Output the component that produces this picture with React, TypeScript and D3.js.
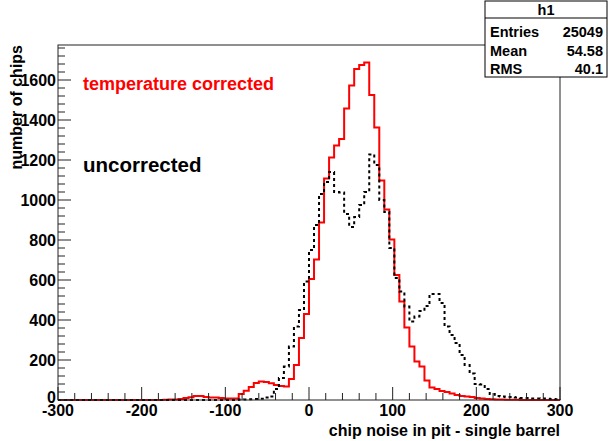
import React from 'react';
import * as d3 from 'd3';

const X_MIN = -300;
const X_MAX = 300;
const Y_MAX = 1775;

// 100 bins of width 6 from -300 to 300
const correctedCounts = [
  0, 0, 0, 0, 0, 0, 0, 0, 0, 0,
  0, 0, 0, 0, 0, 0, 0, 0, 0, 0,
  0, 1, 2, 3, 5, 10, 14, 20, 20, 15,
  12, 12, 10, 8, 7, 8, 30, 46, 65, 85,
  92, 90, 84, 75, 70, 68, 105, 175, 310, 430,
  605, 703, 887, 1108, 1212, 1272, 1305, 1458, 1572, 1655,
  1675, 1688, 1525, 1362, 1097, 953, 803, 625, 492, 363,
  267, 192, 167, 97, 62, 55, 45, 40, 33, 25,
  20, 17, 15, 10, 7, 5, 4, 3, 2, 1,
  1, 1, 0, 0, 0, 0, 0, 0, 0, 0,
];

const uncorrectedCounts = [
  0, 0, 0, 0, 0, 0, 0, 0, 0, 0,
  0, 0, 0, 0, 0, 0, 0, 0, 0, 0,
  0, 0, 0, 0, 0, 0, 0, 0, 0, 0,
  0, 0, 0, 0, 0, 0, 2, 3, 4, 5,
  6, 12, 18, 55, 110, 167, 267, 367, 450, 592,
  750, 875, 1030, 1090, 1140, 1040, 1038, 930, 865, 915,
  975, 1040, 1228, 1175, 1000, 940, 760, 610, 542, 467,
  392, 417, 445, 470, 530, 530, 485, 367, 325, 285,
  225, 175, 133, 80, 78, 55, 30, 20, 17, 15,
  15, 12, 10, 10, 8, 8, 7, 6, 5, 4,
];

const xTickValues = [-300, -200, -100, 0, 100, 200, 300];
const yTickValues = [0, 200, 400, 600, 800, 1000, 1200, 1400, 1600];
const statsTitle = 'h1';
const statsLabels = ['Entries', 'Mean', 'RMS'];
const statsValues = ['25049', '54.58', '40.1'];
const xTitle = 'chip noise in pit - single barrel';
const yTitle = 'number of chips';
const labelCorrected = 'temperature corrected';
const labelUncorrected = 'uncorrected';

const FONT = "'Liberation Sans', Arial, Helvetica, sans-serif";

export default function App() {
  const W = 609;
  const H = 441;
  const L = 58, R = 560, T = 45, B = 400;
  const x = d3.scaleLinear().domain([X_MIN, X_MAX]).range([L, R]);
  const y = d3.scaleLinear().domain([0, Y_MAX]).range([B, T]);

  const stepPath = (counts: number[]) => {
    const bw = (X_MAX - X_MIN) / counts.length;
    const pts: [number, number][] = [[X_MIN, 0]];
    counts.forEach((c, i) => {
      pts.push([X_MIN + i * bw, c]);
      pts.push([X_MIN + (i + 1) * bw, c]);
    });
    pts.push([X_MAX, 0]);
    const line = d3.line<[number, number]>().x(d => x(d[0])).y(d => y(d[1]));
    return line(pts) || '';
  };

  const xMinor = d3.range(X_MIN, X_MAX + 0.1, 20).filter(v => v % 100 !== 0);
  const yMinor = d3.range(0, Y_MAX, 40).filter(v => v % 200 !== 0);

  return (
    <svg width={W} height={H} style={{ position: 'fixed', left: 0, top: 0, background: '#fff' }}
      fontFamily={FONT} fontWeight="bold">
      <rect x={0} y={0} width={W} height={H} fill="#fff" />
      {/* histograms */}
      <path d={stepPath(correctedCounts)} fill="none" stroke="#ff0000" strokeWidth={2} />
      <path d={stepPath(uncorrectedCounts)} fill="none" stroke="#000" strokeWidth={2} strokeDasharray="3,3" />
      {/* frame */}
      <rect x={L} y={T} width={R - L} height={B - T} fill="none" stroke="#222" strokeWidth={1} />
      {/* x ticks */}
      {xTickValues.map(v => (
        <line key={'xm' + v} x1={x(v)} x2={x(v)} y1={B} y2={B - 13} stroke="#222" />
      ))}
      {xMinor.map(v => (
        <line key={'xn' + v} x1={x(v)} x2={x(v)} y1={B} y2={B - 7} stroke="#222" />
      ))}
      {xTickValues.map(v => (
        <text key={'xl' + v} x={x(v)} y={416} textAnchor="middle" fontSize={16}>{v}</text>
      ))}
      {/* y ticks */}
      {yTickValues.map(v => (
        <line key={'ym' + v} x1={L} x2={L + 13} y1={y(v)} y2={y(v)} stroke="#222" />
      ))}
      {yMinor.map(v => (
        <line key={'yn' + v} x1={L} x2={L + 7} y1={y(v)} y2={y(v)} stroke="#222" />
      ))}
      {yTickValues.map(v => (
        <text key={'yl' + v} x={56} y={y(v) - (v === 0 ? 3 : 0)} dy="0.35em" textAnchor="end" fontSize={16}>{v}</text>
      ))}
      {/* titles */}
      <text x={R} y={436} textAnchor="end" fontSize={16}>{xTitle}</text>
      <text transform={`translate(22,${T}) rotate(-90)`} textAnchor="end" fontSize={16}>{yTitle}</text>
      {/* annotations */}
      <text x={83} y={90} fontSize={18} fill="#ff0000">{labelCorrected}</text>
      <text x={83} y={172} fontSize={20.5} fill="#000">{labelUncorrected}</text>
      {/* stats box */}
      <rect x={485} y={1} width={122} height={76} fill="#fff" stroke="#000" strokeWidth={1} />
      <line x1={485} x2={607} y1={18} y2={18} stroke="#000" />
      <text x={546} y={15} textAnchor="middle" fontSize={14.5}>{statsTitle}</text>
      {statsLabels.map((s, i) => (
        <text key={'sl' + i} x={490} y={37 + i * 18.5} fontSize={14.5}>{s}</text>
      ))}
      {statsValues.map((s, i) => (
        <text key={'sv' + i} x={603} y={37 + i * 18.5} textAnchor="end" fontSize={14.5}>{s}</text>
      ))}
    </svg>
  );
}
